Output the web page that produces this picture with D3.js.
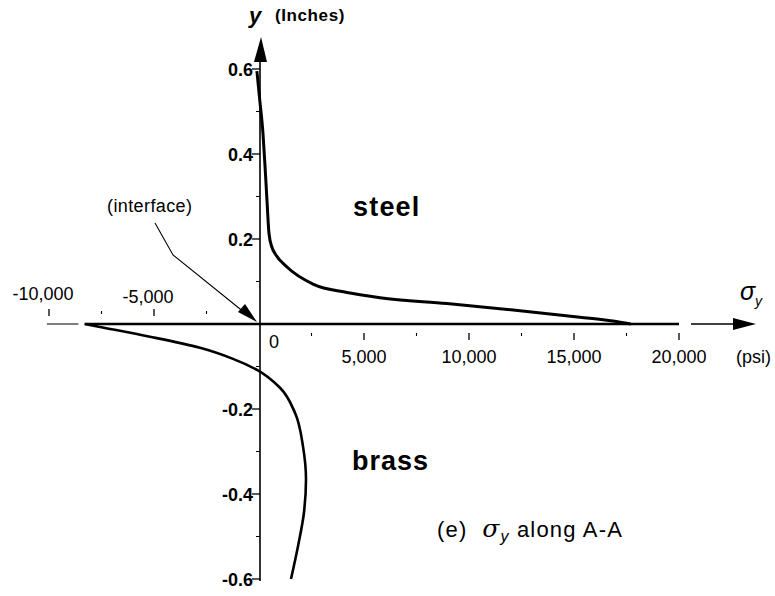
<!DOCTYPE html>
<html>
<head>
<meta charset="utf-8">
<script src="https://cdn.jsdelivr.net/npm/d3@7"></script>
<style>
  html, body { margin: 0; padding: 0; background: #fff; }
  svg { display: block; }
  text { font-family: "Liberation Sans", Arial, Helvetica, sans-serif; fill: #000; }
</style>
</head>
<body>
<svg id="chart" width="775" height="596"></svg>
<script>
// ---- data ----
const xMajorTicks = [-10000, -5000, 5000, 10000, 15000, 20000];
const xMajorLabels = ["-10,000", "-5,000", "5,000", "10,000", "15,000", "20,000"];
const xMinorTicks = [-7500, -2500, 2500, 7500, 12500, 17500];
const yTicks = [-0.6, -0.4, -0.2, 0.2, 0.4, 0.6];
const yTickLabels = ["-0.6", "-0.4", "-0.2", "0.2", "0.4", "0.6"];
const yMinorTicks = [-0.5, -0.3, -0.1, 0.1, 0.3, 0.5];

// steel (y > 0)
const steelSigma = [-100, 40, 190, 300, 380, 476, 620, 762, 1333, 2571, 4190, 5760, 8950, 12100, 15280, 16850, 17700];
const steelY     = [0.595, 0.525, 0.448, 0.36, 0.291, 0.213, 0.18, 0.166, 0.134, 0.094, 0.074, 0.062, 0.048, 0.033, 0.016, 0.007, 0.0];
// brass (y < 0)
const brassSigma = [-8300, -7570, -5190, -2810, -1238, -95, 1000, 1714, 2095, 2238, 2143, 1857, 1524];
const brassY     = [0, -0.007, -0.030, -0.056, -0.082, -0.108, -0.150, -0.209, -0.288, -0.366, -0.443, -0.523, -0.600];

// ---- drawing ----
const svg = d3.select("#chart");
svg.append("rect").attr("width", 775).attr("height", 596).attr("fill", "#fff");

const x = d3.scaleLinear().domain([-10000, 20000]).range([49, 679]);
const y = d3.scaleLinear().domain([-0.6, 0.6]).range([579, 69]);
const x0 = x(0), y0 = y(0);

// x axis (thick part)
svg.append("line").attr("x1", x(-8300)).attr("x2", x(20000)).attr("y1", y0).attr("y2", y0)
  .attr("stroke", "#000").attr("stroke-width", 2.4);
// short thin piece at far left
svg.append("line").attr("x1", x(-10100)).attr("x2", x(-8600)).attr("y1", y0).attr("y2", y0)
  .attr("stroke", "#000").attr("stroke-width", 1.2);
// x arrow
svg.append("line").attr("x1", x(20000) + 12).attr("x2", 736).attr("y1", y0).attr("y2", y0)
  .attr("stroke", "#000").attr("stroke-width", 1.4);
svg.append("path").attr("d", `M733,${y0 - 6} L756,${y0} L733,${y0 + 6} Z`).attr("fill", "#000");

// x ticks
xMajorTicks.forEach(v => {
  const neg = v < 0;
  svg.append("line").attr("x1", x(v)).attr("x2", x(v))
    .attr("y1", neg ? y0 - 15 : y0 + 9).attr("y2", neg ? y0 - 8 : y0 + 16)
    .attr("stroke", "#000").attr("stroke-width", 1.3);
});
xMinorTicks.forEach(v => {
  const neg = v < 0;
  svg.append("line").attr("x1", x(v)).attr("x2", x(v))
    .attr("y1", neg ? y0 - 13 : y0 + 9).attr("y2", neg ? y0 - 10 : y0 + 12)
    .attr("stroke", "#000").attr("stroke-width", 1.1);
});
xMajorTicks.forEach((v, i) => {
  const neg = v < 0;
  svg.append("text").attr("x", x(v) + (neg ? -6 : 0)).attr("y", neg ? (v === -10000 ? 300 : 303) : 363)
    .attr("text-anchor", "middle").attr("font-size", 18).text(xMajorLabels[i]);
});
svg.append("text").attr("x", x0 + 15).attr("y", 348).attr("text-anchor", "middle")
  .attr("font-size", 18).text("0");
svg.append("text").attr("x", 736).attr("y", 363).attr("font-size", 18).text("(psi)");

// sigma_y label at arrow
const sig = svg.append("text").attr("x", 740).attr("y", 300).attr("font-size", 25)
  .attr("font-family", "'DejaVu Serif', 'Liberation Serif', serif").attr("font-style", "italic");
sig.append("tspan").text("σ");
sig.append("tspan").attr("dy", 6).attr("font-size", 14).attr("font-family", "'Liberation Sans', Arial, sans-serif").text("y");

// y axis
svg.append("line").attr("x1", x0 + 1).attr("x2", x0 + 1).attr("y1", 58).attr("y2", 581)
  .attr("stroke", "#000").attr("stroke-width", 1.6);
svg.append("path").attr("d", `M${x0 - 5},62 L${x0 + 2},37 L${x0 + 8},62 Z`).attr("fill", "#000");

yTicks.forEach((v, i) => {
  svg.append("line").attr("x1", x0 - 7).attr("x2", x0 + 1).attr("y1", y(v)).attr("y2", y(v))
    .attr("stroke", "#000").attr("stroke-width", 1.3);
  svg.append("text").attr("x", x0 - 6).attr("y", y(v) + 6.5).attr("text-anchor", "end")
    .attr("font-size", 18).attr("font-weight", "bold").text(yTickLabels[i]);
});
yMinorTicks.forEach(v => {
  svg.append("line").attr("x1", x0 - 3).attr("x2", x0 + 1).attr("y1", y(v)).attr("y2", y(v))
    .attr("stroke", "#000").attr("stroke-width", 1);
});

// y axis title
svg.append("text").attr("x", 249).attr("y", 23).attr("font-size", 22).attr("font-weight", "bold")
  .attr("font-style", "italic").text("y");
svg.append("text").attr("x", 275).attr("y", 21).attr("font-size", 17).attr("font-weight", "bold")
  .attr("letter-spacing", 0.6).text("(Inches)");

// curves
const steelLine = d3.line().x(d => x(d[0])).y(d => y(d[1])).curve(d3.curveMonotoneX);
const brassLine = d3.line().x(d => x(d[0])).y(d => y(d[1])).curve(d3.curveMonotoneY);
svg.append("path").datum(steelSigma.map((s, i) => [s, steelY[i]])).attr("d", steelLine)
  .attr("fill", "none").attr("stroke", "#000").attr("stroke-width", 3).attr("stroke-linejoin", "round");
svg.append("path").datum(brassSigma.map((s, i) => [s, brassY[i]])).attr("d", brassLine)
  .attr("fill", "none").attr("stroke", "#000").attr("stroke-width", 2.6).attr("stroke-linejoin", "round");

// region labels
svg.append("text").attr("x", 353).attr("y", 216).attr("font-size", 27).attr("font-weight", "bold")
  .attr("letter-spacing", 1.2).text("steel");
svg.append("text").attr("x", 352).attr("y", 470).attr("font-size", 27).attr("font-weight", "bold")
  .attr("letter-spacing", 1).text("brass");

// interface annotation
svg.append("text").attr("x", 107).attr("y", 212).attr("font-size", 18).attr("letter-spacing", 0.4).text("(interface)");
svg.append("path").attr("d", "M155,223 L173,255 L250,317").attr("fill", "none")
  .attr("stroke", "#000").attr("stroke-width", 1.1);
svg.append("path").attr("d", "M257,322 L238,312 L245,304 Z").attr("fill", "#000");

// caption
const cap = svg.append("text").attr("x", 437).attr("y", 537).attr("font-size", 22).attr("letter-spacing", 1.2);
cap.append("tspan").text("(e)\u00a0 ");
cap.append("tspan").attr("font-family", "'DejaVu Serif', 'Liberation Serif', serif").attr("font-style", "italic")
  .attr("font-size", 25).text("σ");
cap.append("tspan").attr("dy", 5).attr("font-size", 16).attr("font-style", "italic").text("y");
cap.append("tspan").attr("dy", -5).text(" along A-A");
</script>
</body>
</html>
